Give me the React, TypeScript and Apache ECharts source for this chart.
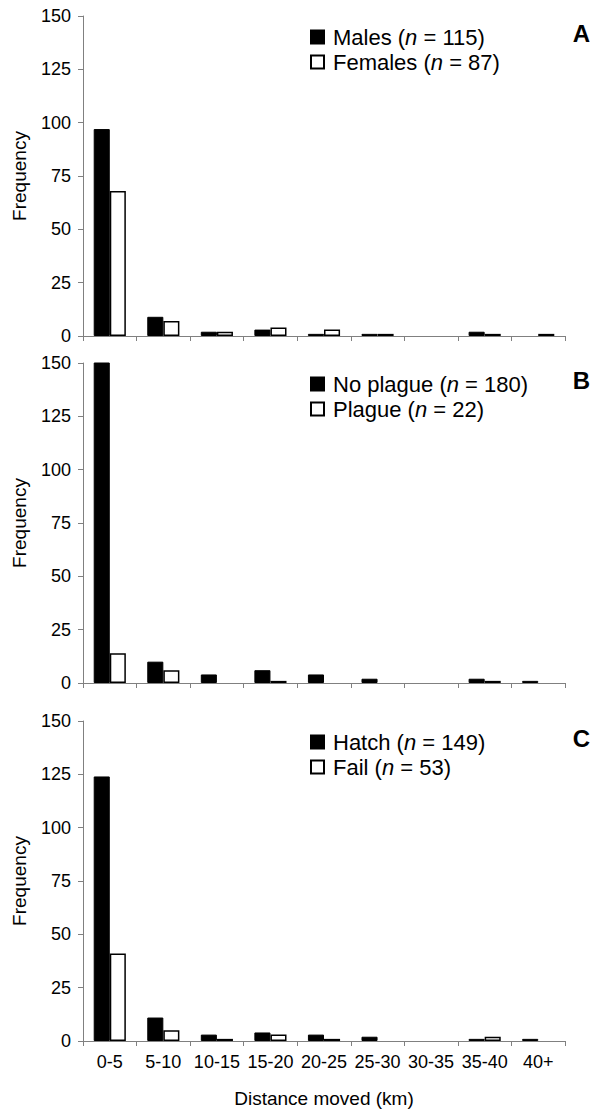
import React, { useEffect, useRef } from "react";
import * as echarts from "echarts";

const categories = ["0-5", "5-10", "10-15", "15-20", "20-25", "25-30", "30-35", "35-40", "40+"];
const yTicks = [0, 25, 50, 75, 100, 125, 150];

const males = [97, 9, 2, 3, 1, 1, 0, 2, 0];
const females = [68, 7, 2, 4, 3, 1, 0, 1, 1];
const noPlague = [151, 10, 4, 6, 4, 2, 0, 2, 1];
const plague = [14, 6, 0, 1, 0, 0, 0, 1, 0];
const hatch = [124, 11, 3, 4, 3, 2, 0, 1, 1];
const fail = [41, 5, 1, 3, 1, 0, 0, 2, 0];

const panelLetters = ["A", "B", "C"];
const seriesNames = [
  ["Males", "Females"],
  ["No plague", "Plague"],
  ["Hatch", "Fail"],
];
const seriesN: Record<string, number> = {
  Males: 115,
  Females: 87,
  "No plague": 180,
  Plague: 22,
  Hatch: 149,
  Fail: 53,
};
const panelData = [
  [males, females],
  [noPlague, plague],
  [hatch, fail],
];

const FONT = "'Liberation Sans', Arial, Helvetica, sans-serif";

export default function App() {
  const ref = useRef<HTMLDivElement>(null);
  useEffect(() => {
    if (!ref.current) return;
    const chart = echarts.init(ref.current, undefined, { renderer: "svg" });
    const tops = [16, 363, 721];
    const gridH = 320;
    const grids = tops.map((t) => ({ left: 83, top: t, width: 482, height: gridH }));
    const axisColor = "#808080";
    const xAxes = tops.map((_, i) => ({
      type: "category",
      gridIndex: i,
      data: categories,
      boundaryGap: true,
      axisLine: { show: true, lineStyle: { color: axisColor, width: 1 } },
      axisTick: { show: true, length: 5, interval: 0, lineStyle: { color: axisColor } },
      axisLabel: {
        show: i === 2,
        interval: 0,
        color: "#000",
        fontSize: 18,
        fontFamily: FONT,
        margin: 12,
      },
      name: i === 2 ? "Distance moved (km)" : "",
      nameLocation: "middle",
      nameGap: 48,
      nameTextStyle: { color: "#000", fontSize: 19, fontFamily: FONT },
    }));
    const yAxes = tops.map((_, i) => ({
      type: "value",
      gridIndex: i,
      min: yTicks[0],
      max: yTicks[yTicks.length - 1],
      interval: yTicks[1] - yTicks[0],
      axisLine: { show: true, lineStyle: { color: axisColor, width: 1 } },
      axisTick: { show: true, length: 5, lineStyle: { color: axisColor } },
      splitLine: { show: false },
      axisLabel: { color: "#000", fontSize: 18, fontFamily: FONT, margin: 12 },
      name: "Frequency",
      nameLocation: "middle",
      nameRotate: 90,
      nameGap: 54,
      nameTextStyle: { color: "#000", fontSize: 19, fontFamily: FONT },
    }));
    const series: any[] = [];
    panelData.forEach((pair, i) => {
      pair.forEach((d, j) => {
        series.push({
          type: "bar",
          name: seriesNames[i][j],
          xAxisIndex: i,
          yAxisIndex: i,
          data: d.map((v) => (v === 0 ? "-" : v)),
          barGap: "0%",
          barCategoryGap: "40%",
          clip: true,
          itemStyle:
            j === 0
              ? { color: "#000", borderColor: "#000", borderWidth: 1 }
              : { color: "#fff", borderColor: "#000", borderWidth: 1.5 },
        });
      });
    });
    const legends = tops.map((t, i) => ({
      data: seriesNames[i],
      orient: "vertical",
      left: 310,
      top: t + 10,
      padding: 0,
      itemWidth: 13,
      itemHeight: 13,
      itemGap: 3,
      icon: "rect",
      selectedMode: false,
      formatter: (name: string) => `{t|${name} (}{i|n}{t| = ${seriesN[name]})}`,
      textStyle: {
        color: "#000",
        fontSize: 22,
        fontFamily: FONT,
        padding: [0, 0, 0, 4],
        rich: {
          t: { color: "#000", fontSize: 22, lineHeight: 22, fontFamily: FONT },
          i: { color: "#000", fontSize: 22, lineHeight: 22, fontFamily: FONT, fontStyle: "italic" },
        },
      },
    }));
    const graphic = tops.map((t, i) => ({
      type: "text",
      right: 9,
      top: t + 5,
      style: {
        text: panelLetters[i],
        fontSize: 24,
        fontWeight: "bold",
        fontFamily: FONT,
        fill: "#000",
      },
    }));
    chart.setOption({
      animation: false,
      backgroundColor: "#fff",
      grid: grids,
      xAxis: xAxes,
      yAxis: yAxes,
      series,
      legend: legends,
      graphic,
    });
    return () => chart.dispose();
  }, []);
  return (
    <div
      ref={ref}
      style={{ position: "absolute", left: 0, top: 0, width: 599, height: 1114 }}
    />
  );
}
